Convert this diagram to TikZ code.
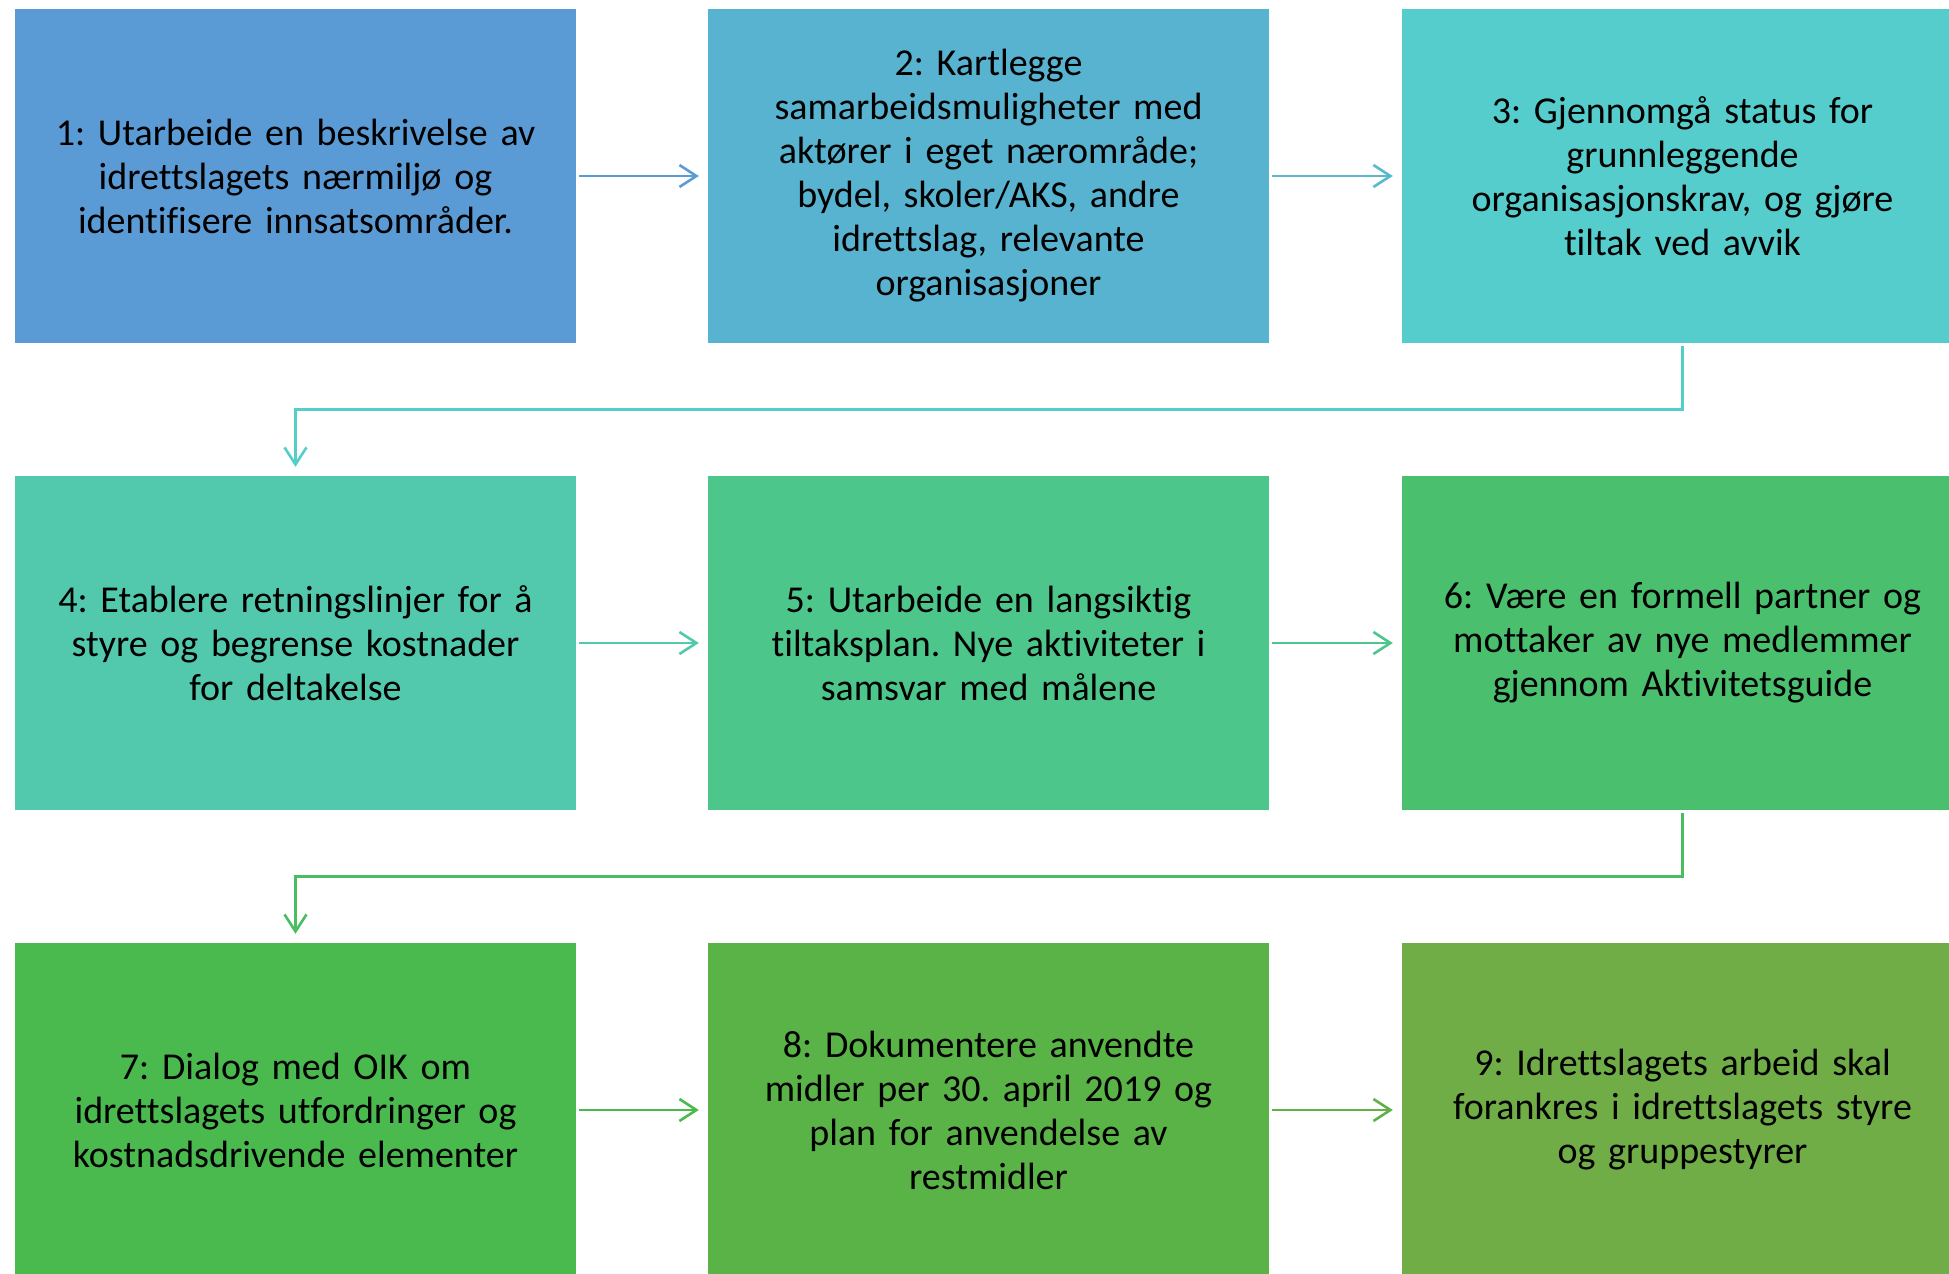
\documentclass[tikz,border=0pt]{standalone}
\usepackage{fontspec}
\setmainfont{Carlito}[Ligatures=NoCommon]
\usetikzlibrary{arrows.meta}
\definecolor{c1}{HTML}{5B9BD5}
\definecolor{c2}{HTML}{57B3CF}
\definecolor{c3}{HTML}{55CDCD}
\definecolor{c4}{HTML}{52C9AD}
\definecolor{c5}{HTML}{4DC68C}
\definecolor{c6}{HTML}{4ABF6D}
\definecolor{c7}{HTML}{4ABA4F}
\definecolor{c8}{HTML}{5AB346}
\definecolor{c9}{HTML}{70AD47}
\tikzset{
  stepbox/.style={rectangle, minimum width=561pt, minimum height=334pt, inner sep=0pt,
    text width=555pt, align=center, font=\fontsize{38pt}{44pt}\selectfont\frenchspacing, text=black},
  flow/.style={line width=2.6pt, -{Straight Barb[length=17pt,width=22pt,line width=2.6pt]}}
}
\begin{document}
\begin{tikzpicture}[x=1pt,y=-1pt]
\useasboundingbox (0,0) rectangle (1949,1274);
\clip (0,0) rectangle (1949,1274);
\node[stepbox, fill=c1] (b1) at (295.5,176) {1: Utarbeide en beskrivelse av\\idrettslagets nærmiljø og\\identifisere innsatsområder.};
\node[stepbox, fill=c2] (b2) at (988.5,176) {2: Kartlegge\\samarbeidsmuligheter med\\aktører i eget nærområde;\\bydel, skoler/AKS, andre\\idrettslag, relevante\\organisasjoner};
\node[stepbox, fill=c3] (b3) at (1682.5,176) {3: Gjennomgå status for\\grunnleggende\\organisasjonskrav, og gjøre\\tiltak ved avvik};
\node[stepbox, fill=c4] (b4) at (295.5,643) {4: Etablere retningslinjer for å\\styre og begrense kostnader\\for deltakelse};
\node[stepbox, fill=c5] (b5) at (988.5,643) {5: Utarbeide en langsiktig\\tiltaksplan. Nye aktiviteter i\\samsvar med målene};
\node[stepbox, fill=c6] (b6) at (1682.5,643) {6: Være en formell partner og\\mottaker av nye medlemmer\\gjennom Aktivitetsguide};
\node[stepbox, fill=c7] (b7) at (295.5,1110) {7: Dialog med OIK om\\idrettslagets utfordringer og\\kostnadsdrivende elementer};
\node[stepbox, fill=c8] (b8) at (988.5,1110) {8: Dokumentere anvendte\\midler per 30. april 2019 og\\plan for anvendelse av\\restmidler};
\node[stepbox, fill=c9] (b9) at (1682.5,1110) {9: Idrettslagets arbeid skal\\forankres i idrettslagets styre\\og gruppestyrer};

\draw[flow, c1] ([xshift=3pt]b1.east) -- ([xshift=-9pt]b2.west);
\draw[flow, c2!80!c3] ([xshift=3pt]b2.east) -- ([xshift=-9pt]b3.west);
\draw[flow, c4] ([xshift=3pt]b4.east) -- ([xshift=-9pt]b5.west);
\draw[flow, c5] ([xshift=3pt]b5.east) -- ([xshift=-9pt]b6.west);
\draw[flow, c7] ([xshift=3pt]b7.east) -- ([xshift=-9pt]b8.west);
\draw[flow, c8!70!c9] ([xshift=3pt]b8.east) -- ([xshift=-9pt]b9.west);

\coordinate (k1) at (1682.5,409.5);
\coordinate (k2) at (295.5,409.5);
\draw[flow, c3!85!c4] ([yshift=-3pt]b3.south) -- (k1) -- (k2) -- ([yshift=9pt]b4.north);
\coordinate (k3) at (1682.5,876.5);
\coordinate (k4) at (295.5,876.5);
\draw[flow, c6!60!c7] ([yshift=-3pt]b6.south) -- (k3) -- (k4) -- ([yshift=9pt]b7.north);
\end{tikzpicture}
\end{document}
